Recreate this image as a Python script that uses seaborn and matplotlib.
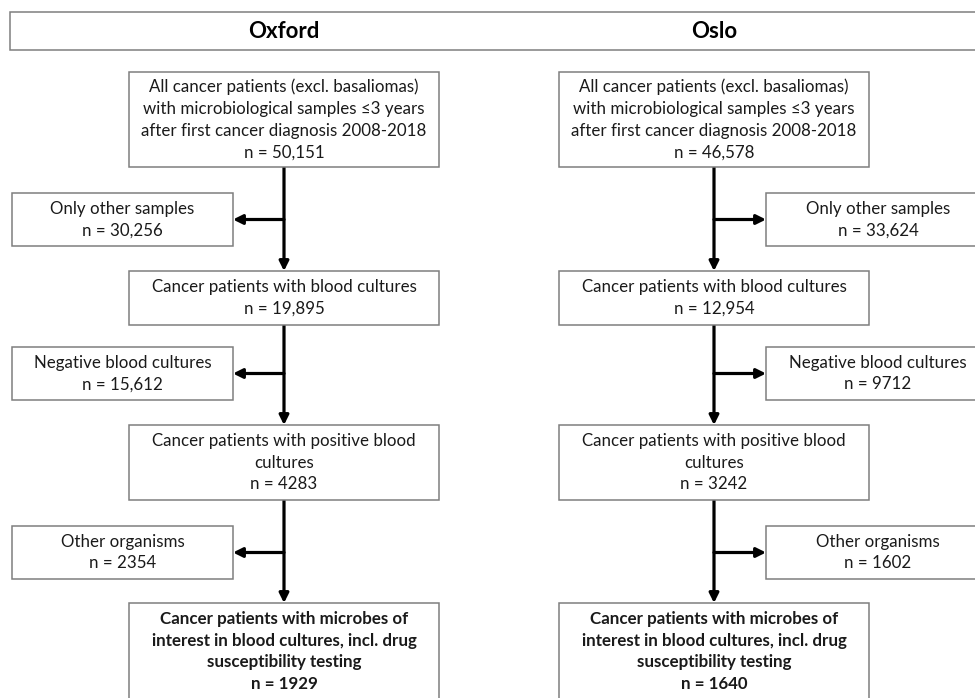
import matplotlib
matplotlib.use("Agg")
import matplotlib.pyplot as plt
import seaborn as sns
from matplotlib.patches import Rectangle

# flowchart content
sites = ["Oxford", "Oslo"]
main_labels = [
    "All cancer patients (excl. basaliomas)\nwith microbiological samples \u22643 years\nafter first cancer diagnosis 2008-2018",
    "Cancer patients with blood cultures",
    "Cancer patients with positive blood\ncultures",
    "Cancer patients with microbes of\ninterest in blood cultures, incl. drug\nsusceptibility testing",
]
excl_labels = ["Only other samples", "Negative blood cultures", "Other organisms"]
oxford_main_n = [50151, 19895, 4283, 1929]
oslo_main_n = [46578, 12954, 3242, 1640]
oxford_excl_n = [30256, 15612, 2354]
oslo_excl_n = [33624, 9712, 1602]

sns.set_theme(style="white")
plt.rcParams['font.family'] = ['Lato', 'DejaVu Sans']

W, H = 975, 698
fig = plt.figure(figsize=(W / 100, H / 100), dpi=100)
ax = fig.add_axes([0, 0, 1, 1])
ax.set_xlim(0, W)
ax.set_ylim(H, 0)
ax.axis("off")

edge = "#7f7f7f"
txt = "#1a1a1a"
fs = 12.2
ls = 1.45


def fmt(n):
    return f"{n:,}" if n >= 10000 else str(n)


def box(x0, x1, y0, y1, label, bold=False, size=fs):
    ax.add_patch(Rectangle((x0, y0), x1 - x0, y1 - y0, fill=True, facecolor="white",
                           edgecolor=edge, lw=1.1, zorder=2))
    ax.text((x0 + x1) / 2, (y0 + y1) / 2, label, ha="center", va="center",
            fontsize=size, color=txt, linespacing=ls, zorder=3,
            fontweight="bold" if bold else "normal")


def arrow(x0, y0, x1, y1):
    ax.annotate("", xy=(x1, y1), xytext=(x0, y0), zorder=1,
                arrowprops=dict(arrowstyle="-|>", lw=2.3, color="black",
                                shrinkA=0, shrinkB=0, mutation_scale=14))


# header bar
ax.add_patch(Rectangle((10, 12), 990, 38, facecolor="white", edgecolor=edge, lw=1.1))

main_y = [(72, 167), (271, 325), (425, 500), (603, 712)]
excl_y = [(193, 246), (347, 400), (526, 579)]
layout = {
    "Oxford": dict(main_x=(129, 439), excl_x=(12, 233), side=-1),
    "Oslo": dict(main_x=(559, 869), excl_x=(766, 990), side=1),
}
counts = {"Oxford": (oxford_main_n, oxford_excl_n), "Oslo": (oslo_main_n, oslo_excl_n)}

for site in sites:
    lay = layout[site]
    mx0, mx1 = lay["main_x"]
    cx = (mx0 + mx1) / 2
    ex0, ex1 = lay["excl_x"]
    main_n, excl_n = counts[site]
    ax.text(cx, 32, site, ha="center", va="center", fontsize=16,
            fontweight="bold", color="black")
    for i, (lab, n) in enumerate(zip(main_labels, main_n)):
        y0, y1 = main_y[i]
        yc = (y0 + y1) / 2 if i < len(main_labels) - 1 else 651.5
        box(mx0, mx1, y0, y1, "", bold=False)
        ax.text(cx, yc, f"{lab}\nn = {fmt(n)}", ha="center", va="center",
                fontsize=fs, color=txt, linespacing=ls, zorder=3,
                fontweight="bold" if i == len(main_labels) - 1 else "normal")
    for i, (lab, n) in enumerate(zip(excl_labels, excl_n)):
        y0, y1 = excl_y[i]
        box(ex0, ex1, y0, y1, f"{lab}\nn = {fmt(n)}")
        # vertical arrow to next main box
        arrow(cx, main_y[i][1], cx, main_y[i + 1][0])
        ym = (y0 + y1) / 2
        target = ex1 if lay["side"] < 0 else ex0
        arrow(cx, ym, target, ym)

fig.savefig("out.png", dpi=100)
